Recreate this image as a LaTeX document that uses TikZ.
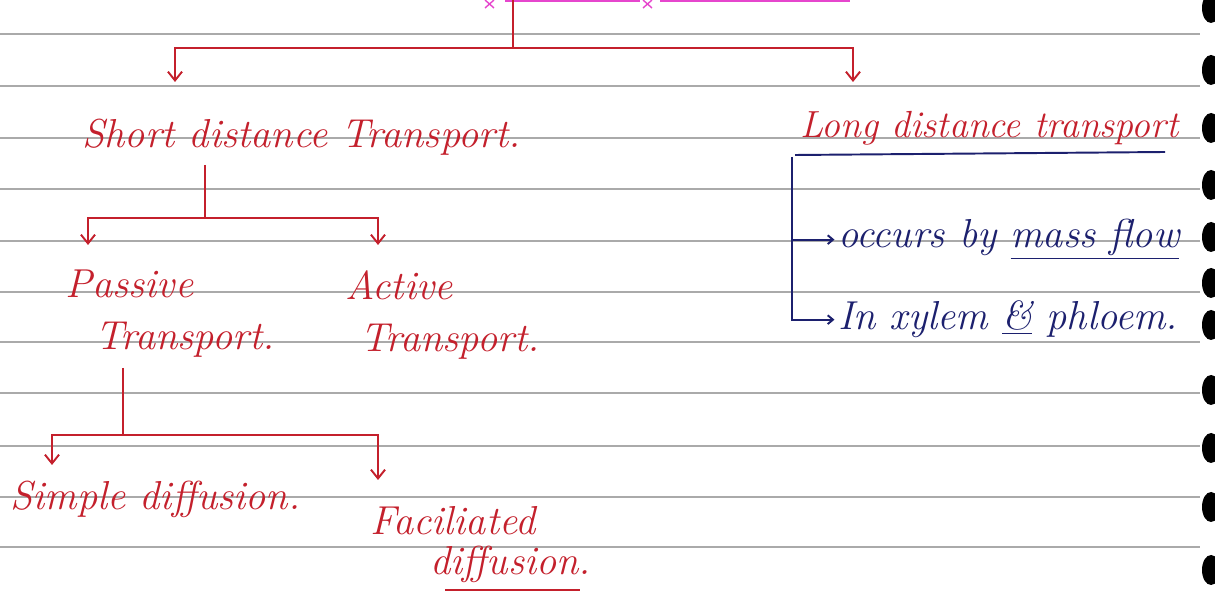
\documentclass[tikz,border=0pt]{standalone}
\usepackage{xcolor}
\usepackage{tikz}
\usetikzlibrary{arrows.meta}
\definecolor{inkred}{RGB}{196,32,44}
\definecolor{inkblue}{RGB}{28,32,110}
\definecolor{ruleline}{RGB}{170,170,170}
\definecolor{hilite}{RGB}{230,70,205}

\begin{document}
\begin{tikzpicture}[x=0.2mm,y=-0.2mm,
		redtxt/.style={text=inkred,font=\fontsize{23}{27}\selectfont\itshape,inner sep=0pt,anchor=base west},
		bluetxt/.style={redtxt,text=inkblue},
		redln/.style={inkred,line width=1.1pt},
		redarr/.style={redln,-{Straight Barb[length=5pt,width=8pt]}},
		blueln/.style={inkblue,line width=1.1pt},
		bluearr/.style={blueln,-{Straight Barb[length=3pt,width=5pt]}}]
		\useasboundingbox (0,0) rectangle (1215,596);
		\fill [white] (0,0) rectangle (1215,596);
		% ruled page
		\foreach \y in {34,86,138,189,241,292,342,393,446,497,547}
			\draw [ruleline,line width=0.6pt] (0,\y) -- (1200,\y);
		\foreach \y in {8,70,128,185,237,283,325,390,448,507,570}
			\fill (1211,\y) ellipse (9 and 15);
		\draw [hilite,line width=1.4pt] (505,1) -- (640,1) (660,1) -- (850,1);
		\draw [hilite,line width=0.8pt] (485,0) -- (494,8) (485,8) -- (494,0);
		\draw [hilite,line width=0.8pt] (643,0) -- (652,8) (643,8) -- (652,0);

		% labels
		\node [redtxt] (short) at (82,148) {Short distance Transport.};
		\node [redtxt,font=\fontsize{21.5}{26}\selectfont\itshape] (long) at (800,138) {Long distance transport};
		\node [redtxt] (passive) at (65,298) {Passive};
		\node [redtxt] (passivetr) at (95,350) {Transport.};
		\node [redtxt] (active) at (345,300) {Active};
		\node [redtxt] (activetr) at (360,352) {Transport.};
		\node [redtxt] (simple) at (10,510) {Simple diffusion.};
		\node [redtxt] (facil) at (370,535) {Faciliated};
		\node [redtxt] (faciltr) at (430,575) {diffusion.};
		\node [bluetxt] (mass) at (838,248) {occurs by \underline{mass flow}};
		\node [bluetxt] (xylem) at (838,330) {In xylem \underline{\&} phloem.};

		% red tree
		\coordinate (top) at (513,0);
		\coordinate (split) at (513,48);
		\coordinate (shortin) at (175,82);
		\coordinate (longin) at (853,82);
		\draw [redln] (top) -- (split);
		\draw [redarr] (split) -| (shortin);
		\draw [redarr] (split) -| (longin);

		\coordinate (shortout) at (205,165);
		\coordinate (shortsplit) at (205,218);
		\coordinate (passivein) at (88,245);
		\coordinate (activein) at (378,245);
		\draw [redln] (shortout) -- (shortsplit);
		\draw [redarr] (shortsplit) -| (passivein);
		\draw [redarr] (shortsplit) -| (activein);

		\coordinate (passiveout) at (123,368);
		\coordinate (passivesplit) at (123,435);
		\coordinate (simplein) at (52,465);
		\coordinate (facilin) at (378,480);
		\draw [redln] (passiveout) -- (passivesplit);
		\draw [redarr] (passivesplit) -| (simplein);
		\draw [redarr] (passivesplit) -| (facilin);
		\draw [redln] (faciltr.base west) ++(15,15) -- ++(135,0);

		% blue list
		\draw [blueln] (795,155) -- (1165,152);
		\coordinate (brtop) at (792,157);
		\draw [bluearr,shorten >=2pt] (brtop) |- (xylem.west);
		\draw [bluearr,shorten >=2pt] (brtop |- mass.west) -- (mass.west);
	\end{tikzpicture}
\end{document}
